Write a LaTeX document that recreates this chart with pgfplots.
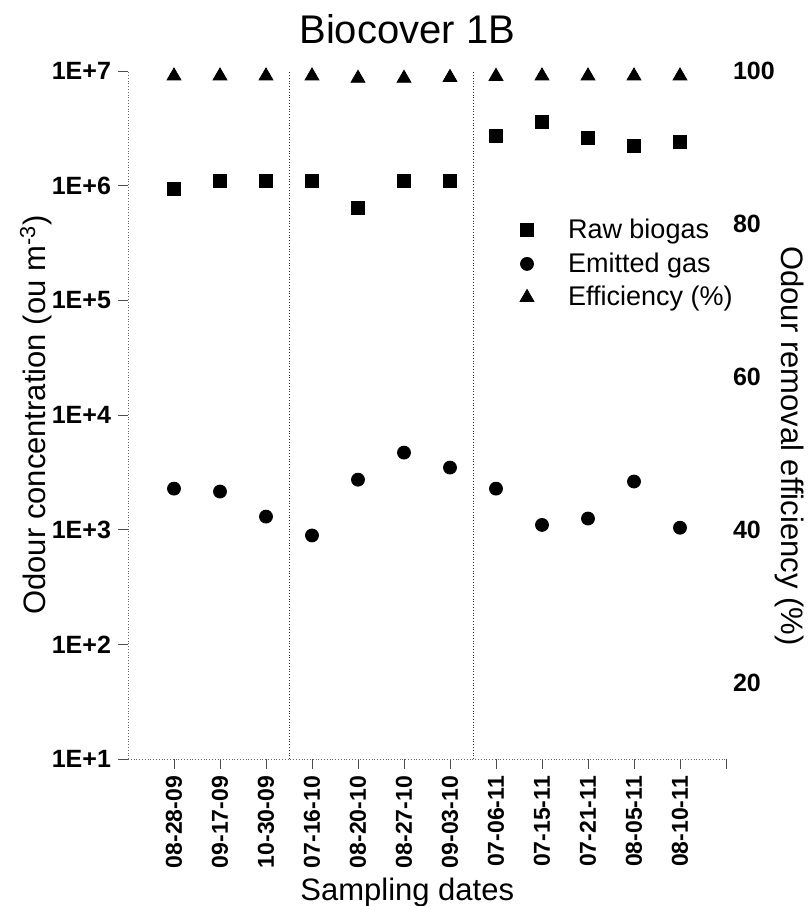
\documentclass[border=0pt]{standalone}
\usepackage{fontspec}
\setmainfont{Liberation Sans}
\usepackage{pgfplots}
\usepackage{pgfplotstable}
\pgfplotsset{compat=1.18}

% x = sampling index (1..12), raw/emitted in ou m^-3, eff in %
\pgfplotstableread{
x raw emitted eff
1  9.4e5 2280 99.35
2  1.1e6 2150 99.35
3  1.1e6 1300 99.35
4  1.1e6 890  99.35
5  6.4e5 2730 99.05
6  1.1e6 4700 99.05
7  1.1e6 3480 99.15
8  2.7e6 2280 99.3
9  3.6e6 1100 99.35
10 2.6e6 1250 99.35
11 2.2e6 2630 99.35
12 2.4e6 1040 99.35
}\bioB

\pgfplotsset{
  bcover/.style={
    width=299pt, height=344pt, scale only axis,
    xmin=0, xmax=13,
    tick label style={font=\fontsize{12.5}{14}\selectfont\bfseries},
    label style={font=\fontsize{15.5}{18}\selectfont},
  }
}

\begin{document}
\begin{tikzpicture}
\path[use as bounding box] (-64pt,-73.5pt) rectangle (340.5pt,379.5pt);
\begin{axis}[bcover,
  ymode=log, ymin=10, ymax=1e7,
  axis x line*=bottom, axis y line*=left,
  axis line style={-, black!60, densely dotted, thin},
  tick style={black!70, thin, solid},
  tick align=outside, major tick length=5pt,
  yminorticks=false,
  xtick={1,...,13},
  xticklabels={08-28-09,09-17-09,10-30-09,07-16-10,08-20-10,08-27-10,09-03-10,07-06-11,07-15-11,07-21-11,08-05-11,08-10-11,},
  x tick label style={rotate=90, anchor=east, font=\fontsize{11.5}{14}\selectfont\bfseries},
  ytick={10,100,1000,10000,100000,1000000,10000000},
  yticklabels={1E+1,1E+2,1E+3,1E+4,1E+5,1E+6,1E+7},
  xlabel={Sampling dates},
  xlabel style={at={(ticklabel cs:0.467)}, yshift=2pt},
  ylabel={Odour concentration (ou m\textsuperscript{-3})},
  ylabel shift=-7pt,
  title={Biocover 1B},
  title style={font=\fontsize{20}{23}\selectfont, at={(0.467,1)}, yshift=4pt},
  legend style={draw=none, fill=none, at={(0.628,0.797)}, anchor=north west,
    font=\fontsize{13.5}{16}\selectfont, cells={anchor=west}, row sep=1.5pt},
  legend image code/.code={\path[draw=none, fill=none] (0cm,0cm) -- (0.95cm,0cm);
    \draw[#1] plot[only marks] coordinates {(0.3cm,0cm)};},
]
\addplot[black!80, densely dotted, thin, forget plot] coordinates {(3.5,10) (3.5,1e7)};
\addplot[black!80, densely dotted, thin, forget plot] coordinates {(7.5,10) (7.5,1e7)};
\addplot[only marks, mark=square*, mark size=3.25pt, black] table[x=x, y=raw] {\bioB};
\addlegendentry{Raw biogas}
\addplot[only marks, mark=*, mark size=3.25pt, black] table[x=x, y=emitted] {\bioB};
\addlegendentry{Emitted gas}
\addlegendimage{only marks, mark=triangle*, mark size=4pt, black}
\addlegendentry{Efficiency (\%)}
\end{axis}

\begin{axis}[bcover,
  ymin=10, ymax=100,
  axis x line=none, axis y line*=right,
  y axis line style={draw=none},
  major tick length=0pt,
  ytick={20,40,60,80,100},
  yticklabels={20,40,60,80,100},
  ylabel={Odour removal efficiency (\%)},
  ylabel style={rotate=180, at={(rel axis cs:1.107,0.455)}, anchor=center},
  clip mode=individual,
]
\addplot[only marks, mark=triangle*, mark size=4pt, black] table[x=x, y=eff] {\bioB};
\end{axis}
\end{tikzpicture}
\end{document}
